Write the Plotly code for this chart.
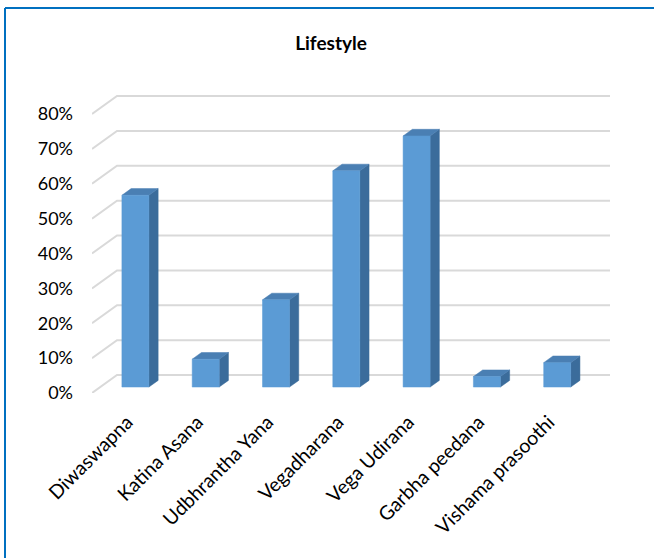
import plotly.graph_objects as go

categories = ["Diwaswapna", "Katina Asana", "Udbhrantha Yana", "Vegadharana",
              "Vega Udirana", "Garbha peedana", "Vishama prasoothi"]
values = [55, 8, 25, 62, 72, 3, 7]
tick_values = [0, 10, 20, 30, 40, 50, 60, 70, 80]
tick_labels = ["0%", "10%", "20%", "30%", "40%", "50%", "60%", "70%", "80%"]

# pseudo-3D geometry (in axis units)
W, H = 654, 558
ML, MR, MT, MB = 92, 44, 90, 165
PX_PER_CAT = 70.3
PX_PER_PCT = 3.4875
X_MAX = (W - ML - MR) / PX_PER_CAT
Y_MAX = (H - MT - MB) / PX_PER_PCT
DEPTH_X = 25 / PX_PER_CAT   # full wall depth, x shift
DEPTH_Y = 18 / PX_PER_PCT   # full wall depth, y shift
F1, F2 = 0.33, 0.70         # bar depth position (front, back)
HALF = 0.192                # half bar width

FRONT = "#5B9BD5"
SIDE = "#3B6C9B"
TOP = "#4A7FB3"
GRID = "#D9D9D9"

fig = go.Figure()

# gridlines: side wall diagonal + back wall horizontal
gx, gy = [], []
for t in tick_values:
    gx += [0, DEPTH_X, X_MAX, None]
    gy += [t, t + DEPTH_Y, t + DEPTH_Y, None]
fig.add_trace(go.Scatter(x=gx, y=gy, mode="lines", line=dict(color=GRID, width=2),
                         hoverinfo="skip", showlegend=False))

fx, fy, sx, sy, tx, ty = [], [], [], [], [], []
for i, v in enumerate(values):
    c = i + 0.5
    x0f, x1f = c - HALF + F1 * DEPTH_X, c + HALF + F1 * DEPTH_X
    x0b, x1b = c - HALF + F2 * DEPTH_X, c + HALF + F2 * DEPTH_X
    yf, yb = F1 * DEPTH_Y, F2 * DEPTH_Y
    fx += [x0f, x1f, x1f, x0f, x0f, None]
    fy += [yf, yf, v + yf, v + yf, yf, None]
    sx += [x1f, x1b, x1b, x1f, x1f, None]
    sy += [yf, yb, v + yb, v + yf, yf, None]
    tx += [x0f, x1f, x1b, x0b, x0f, None]
    ty += [v + yf, v + yf, v + yb, v + yb, v + yf, None]

for xs, ys, col in [(sx, sy, SIDE), (tx, ty, TOP), (fx, fy, FRONT)]:
    fig.add_trace(go.Scatter(x=xs, y=ys, mode="lines", fill="toself", fillcolor=col,
                             line=dict(color=col, width=0.5), hoverinfo="skip",
                             showlegend=False))

font_family = "Lato, Carlito, 'Liberation Sans', sans-serif"

fig.update_layout(
    width=W, height=H,
    margin=dict(l=ML, r=MR, t=MT, b=MB, autoexpand=False),
    paper_bgcolor="white", plot_bgcolor="white",
    title=dict(text="<b>Lifestyle</b>", x=331 / W, y=1 - 43 / H,
               xanchor="center", yanchor="middle",
               font=dict(family=font_family, size=19, color="black")),
    xaxis=dict(range=[0, X_MAX], tickvals=[i + 0.5 for i in range(len(categories))],
               ticktext=categories, tickangle=-45, showgrid=False, zeroline=False,
               showline=False, ticks="", ticklabelstandoff=13,
               tickfont=dict(family=font_family, size=19.5, color="black")),
    yaxis=dict(range=[0, Y_MAX], tickvals=tick_values, ticktext=tick_labels,
               showgrid=False, zeroline=False, showline=False, ticks="",
               ticklabelstandoff=18,
               tickfont=dict(family=font_family, size=18, color="black")),
    shapes=[
        dict(type="line", xref="paper", yref="paper",
             x0=(5 - ML) / (W - ML - MR), x1=(5 - ML) / (W - ML - MR),
             y0=(H - MB - 8) / (H - MT - MB), y1=(H - MB - H) / (H - MT - MB),
             line=dict(color="#0070C0", width=2)),
        dict(type="line", xref="paper", yref="paper",
             x0=(5 - ML) / (W - ML - MR), x1=(W - ML) / (W - ML - MR),
             y0=(H - MB - 8) / (H - MT - MB), y1=(H - MB - 8) / (H - MT - MB),
             line=dict(color="#0070C0", width=2)),
    ],
)

fig.write_html("out.html", config={"displayModeBar": False},
               post_script="document.body.style.margin='0';")
